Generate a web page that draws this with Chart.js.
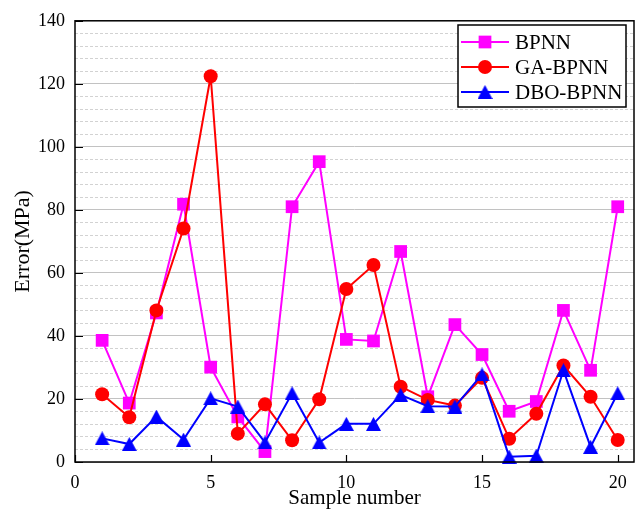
<!DOCTYPE html>
<html>
<head>
<meta charset="utf-8">
<title>Error comparison</title>
<script src="https://cdn.jsdelivr.net/npm/chart.js@4.4.0/dist/chart.umd.min.js"></script>
<style>
  body { margin: 0; background: #fff; }
  #errorChart { display: block; }
</style>
</head>
<body>
<canvas id="errorChart" width="643" height="512"></canvas>
<script>
// Prediction error of each test sample (MPa)
const sampleNumbers = [1, 2, 3, 4, 5, 6, 7, 8, 9, 10, 11, 12, 13, 14, 15, 16, 17, 18, 19, 20];
const bpnnError = [38.6, 18.7, 47.3, 81.8, 30.1, 14.3, 3.3, 81.0, 95.3, 38.9, 38.4, 66.8, 20.7, 43.6, 34.1, 16.1, 19.2, 48.1, 29.1, 81.0];
const gaBpnnError = [21.5, 14.2, 48.1, 74.1, 122.4, 9.0, 18.3, 6.9, 19.9, 54.9, 62.5, 23.9, 19.7, 17.9, 26.7, 7.4, 15.3, 30.6, 20.7, 7.0];
const dboBpnnError = [7.5, 5.7, 14.4, 7.1, 20.2, 17.6, 6.2, 21.8, 6.2, 12.1, 12.1, 21.3, 17.7, 17.6, 27.8, 1.7, 2.0, 29.1, 4.8, 21.8];

const xTicks = [0, 5, 10, 15, 20];
const yTicks = [0, 20, 40, 60, 80, 100, 120, 140];
const minorStep = 4;

const serif = "'Times New Roman', 'Liberation Serif', serif";
Chart.defaults.font.family = serif;
Chart.defaults.color = "#000";

function toPoints(values) {
    return values.map((v, i) => ({ x: sampleNumbers[i], y: v }));
}

// Filled triangle centred on its bounding box
function triangleMarker(color, w, h) {
    const c = document.createElement("canvas");
    c.width = w;
    c.height = h;
    const g = c.getContext("2d");
    g.fillStyle = color;
    g.beginPath();
    g.moveTo(w / 2, 0);
    g.lineTo(w, h);
    g.lineTo(0, h);
    g.closePath();
    g.fill();
    return c;
}

function drawMarker(ctx, style, x, y, r) {
    if (style instanceof HTMLCanvasElement) {
        ctx.drawImage(style, x - style.width / 2, y - style.height / 2);
        return;
    }
    ctx.beginPath();
    if (style === "rect") {
        const s = r * Math.SQRT1_2;
        ctx.rect(x - s, y - s, 2 * s, 2 * s);
    } else {
        ctx.arc(x, y, r, 0, Math.PI * 2);
    }
    ctx.closePath();
    ctx.fill();
}

// Box around the plot plus inward tick marks
const framePlugin = {
    id: "frame",
    afterDatasetsDraw(chart) {
        const { ctx, chartArea: a, scales } = chart;
        ctx.save();
        ctx.strokeStyle = "#000";
        ctx.lineWidth = 1.5;
        ctx.strokeRect(a.left, a.top, a.right - a.left, a.bottom - a.top);
        ctx.beginPath();
        yTicks.forEach(v => {
            const y = Math.round(scales.y.getPixelForValue(v)) + 0.5;
            ctx.moveTo(a.left, y);
            ctx.lineTo(a.left + 8, y);
        });
        xTicks.forEach(v => {
            const x = Math.round(scales.x.getPixelForValue(v)) + 0.5;
            ctx.moveTo(x, a.bottom);
            ctx.lineTo(x, a.bottom - 7);
        });
        ctx.lineWidth = 1.2;
        ctx.stroke();
        ctx.restore();
    }
};

// Legend with line + marker samples, top right of the plot
const legendPlugin = {
    id: "lineLegend",
    afterDraw(chart) {
        const ctx = chart.ctx;
        const box = { x: 458, y: 25, w: 168, h: 82 };
        ctx.save();
        ctx.fillStyle = "#fff";
        ctx.fillRect(box.x, box.y, box.w, box.h);
        ctx.strokeStyle = "#000";
        ctx.lineWidth = 1.5;
        ctx.strokeRect(box.x, box.y, box.w, box.h);
        ctx.font = "21px " + serif;
        ctx.textBaseline = "middle";
        chart.data.datasets.forEach((ds, i) => {
            const y = box.y + 17 + i * 25;
            ctx.strokeStyle = ds.borderColor;
            ctx.lineWidth = ds.borderWidth;
            ctx.beginPath();
            ctx.moveTo(box.x + 3, y);
            ctx.lineTo(box.x + 51, y);
            ctx.stroke();
            ctx.fillStyle = ds.pointBackgroundColor;
            drawMarker(ctx, ds.pointStyle, box.x + 27, y, ds.pointRadius);
            ctx.fillStyle = "#000";
            ctx.fillText(ds.label, box.x + 57, y + 1);
        });
        ctx.restore();
    }
};

function makeSeries(label, values, color, style, radius, order) {
    return {
        label: label,
        data: toPoints(values),
        borderColor: color,
        backgroundColor: color,
        pointBackgroundColor: color,
        pointBorderColor: color,
        borderWidth: 2,
        pointStyle: style,
        pointRadius: radius,
        pointBorderWidth: 0,
        tension: 0,
        clip: false,
        order: order
    };
}

const ctx = document.getElementById("errorChart").getContext("2d");

new Chart(ctx, {
    type: "line",
    data: {
        datasets: [
            makeSeries("BPNN", bpnnError, "#ff00ff", "rect", 9, 3),
            makeSeries("GA-BPNN", gaBpnnError, "#ff0000", "circle", 7, 2),
            makeSeries("DBO-BPNN", dboBpnnError, "#0000ff", triangleMarker("#0000ff", 15, 14), 8, 1)
        ]
    },
    options: {
        responsive: false,
        animation: false,
        events: [],
        layout: { padding: { top: 13, right: 9, left: 0, bottom: 0 } },
        plugins: {
            legend: { display: false },
            tooltip: { enabled: false }
        },
        scales: {
            x: {
                type: "linear",
                min: 0,
                max: 20.6,
                afterBuildTicks: s => { s.ticks = xTicks.map(v => ({ value: v })); },
                afterFit: s => { s.height = 50; },
                grid: { display: false, drawTicks: false },
                border: { display: false },
                ticks: { padding: 10, font: { size: 18 }, color: "#000" },
                title: {
                    display: true,
                    text: "Sample number",
                    font: { size: 21 },
                    color: "#000",
                    padding: { top: 0, bottom: 1 }
                }
            },
            y: {
                min: 0,
                max: 140,
                afterBuildTicks: s => { s.ticks = yTicks.map(v => ({ value: v })); },
                afterFit: s => { s.width = 75; },
                grid: { color: "#c2c2c2", lineWidth: 1, drawTicks: false },
                border: { display: false },
                ticks: { padding: 10, font: { size: 18 }, color: "#000" },
                title: {
                    display: true,
                    text: "Error(MPa)",
                    font: { size: 22 },
                    color: "#000",
                    padding: { top: 10, bottom: 0 }
                }
            },
            yMinor: {
                position: "left",
                min: 0,
                max: 140,
                afterBuildTicks: s => {
                    const t = [];
                    for (let v = minorStep; v < 140; v += minorStep) {
                        if (v % 20 !== 0) t.push({ value: v });
                    }
                    s.ticks = t;
                },
                afterFit: s => { s.width = 0; },
                grid: { color: "#d2d2d2", lineWidth: 1, drawTicks: false },
                border: { display: false, dash: [3, 2] },
                ticks: { display: false }
            }
        }
    },
    plugins: [framePlugin, legendPlugin]
});
</script>
</body>
</html>
